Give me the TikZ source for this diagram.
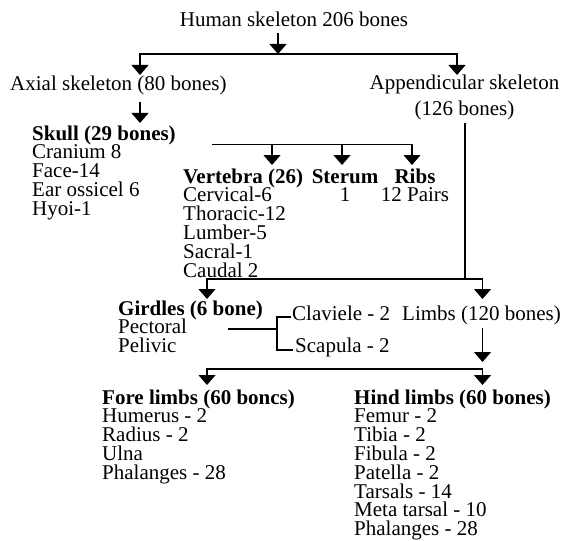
\documentclass[tikz,border=0pt]{standalone}
\usepackage{fontspec}
\setmainfont{Liberation Serif}
\usetikzlibrary{arrows.meta}
% stacked lines, baseline of the box = baseline of the first line
\newcommand\skLeft[1]{\vtop{\baselineskip=18.8pt\lineskiplimit=-50pt\halign{##\hfil\cr#1\crcr}}}
\newcommand\skMid[1]{\vtop{\baselineskip=18.8pt\lineskiplimit=-50pt\halign{\hfil##\hfil\cr#1\crcr}}}
\begin{document}
\begin{tikzpicture}[x=1pt,y=-1pt,
  txt/.style={inner sep=0pt, anchor=base west, font=\fontsize{21}{18.8}\selectfont},
  ctxt/.style={txt, anchor=base},
  link/.style={line width=1.3pt},
  arr/.style={link, -{Triangle[width=17pt,length=10pt]}}]
\useasboundingbox[fill=white] (0,0) rectangle (561,540);

% ---- text blocks
\node[ctxt] (human) at (294,27) {Human skeleton 206 bones};
\node[txt]  (axial) at (10,91) {Axial skeleton (80 bones)};
\node[ctxt] (append) at (464.5,90) {Appendicular skeleton};
\node[ctxt] (appendN) at (464.5,116) {(126 bones)};
\node[txt]  (skull) at (32,140) {\skLeft{{\bfseries Skull (29 bones)}\cr Cranium 8\cr Face-14\cr Ear ossicel 6\cr Hyoi-1}};
\node[txt]  (vert) at (183,183) {\skLeft{{\bfseries Vertebra (26)}\cr Cervical-6\cr Thoracic-12\cr Lumber-5\cr Sacral-1\cr Caudal 2}};
\node[ctxt] (sterum) at (345,183) {\skMid{{\bfseries Sterum}\cr 1}};
\node[ctxt] (ribs) at (415,183) {\skMid{{\bfseries Ribs}\cr 12 Pairs}};
\node[txt]  (girdles) at (118,315) {\skLeft{{\bfseries Girdles (6 bone)}\cr Pectoral\cr Pelivic}};
\node[txt]  (clav) at (292,320) {Claviele - 2};
\node[txt]  (scap) at (295,352) {Scapula - 2};
\node[txt]  (limbs) at (402,320) {Limbs (120 bones)};
\node[txt]  (fore) at (102,404) {\skLeft{{\bfseries Fore limbs (60 boncs)}\cr Humerus - 2\cr Radius - 2\cr Ulna\cr Phalanges - 28}};
\node[txt]  (hind) at (354,404) {\skLeft{{\bfseries Hind limbs (60 bones)}\cr Femur - 2\cr Tibia - 2\cr Fibula - 2\cr Patella - 2\cr Tarsals - 14\cr Meta tarsal - 10\cr Phalanges - 28}};

% ---- connector points
\coordinate (humanOut) at (278,33);
\coordinate (topJoin) at (278,54);
\coordinate (axialIn) at (140,75);
\coordinate (appendIn) at (457,75);
\coordinate (axialOut) at (140,102);
\coordinate (skullIn) at (140,123);
\coordinate (axBarL) at (212,144.5);
\coordinate (vertIn) at (272,165);
\coordinate (sterumIn) at (342,165);
\coordinate (ribsIn) at (412,165);
\coordinate (appendOut) at (465,123);
\coordinate (appJoin) at (465,279);
\coordinate (girdlesIn) at (207,299);
\coordinate (limbsIn) at (482.5,299);
\coordinate (pectOut) at (228,329);
\coordinate (brTop) at (277,317);
\coordinate (brBot) at (277,350);
\coordinate (clavIn) at (291,317);
\coordinate (scapIn) at (293,350);
\coordinate (limbsOut) at (482.5,328);
\coordinate (limbsTip) at (482.5,362);
\coordinate (lbBarL) at (207,369);
\coordinate (lbBarR) at (482.5,369);
\coordinate (foreIn) at (207,385);
\coordinate (hindIn) at (482.5,385);

% ---- connectors
\draw[arr] (humanOut) -- (topJoin);
\draw[arr] (topJoin) -| (axialIn);
\draw[arr] (topJoin) -| (appendIn);
\draw[arr] (axialOut) -- (skullIn);
\draw[arr] (axBarL) -| (ribsIn);
\draw[arr] (axBarL -| vertIn) -- (vertIn);
\draw[arr] (axBarL -| sterumIn) -- (sterumIn);
\draw[link] (appendOut) -- (appJoin);
\draw[arr] (appJoin) -| (girdlesIn);
\draw[arr] (appJoin) -| (limbsIn);
\draw[link] (pectOut) -- (pectOut -| brTop);
\draw[link] (clavIn) -- (brTop) -- (brBot) -- (scapIn);
\draw[arr] (limbsOut) -- (limbsTip);
\draw[arr] (lbBarR) -| (foreIn);
\draw[arr] (lbBarR) -- (hindIn);
\end{tikzpicture}
\end{document}
